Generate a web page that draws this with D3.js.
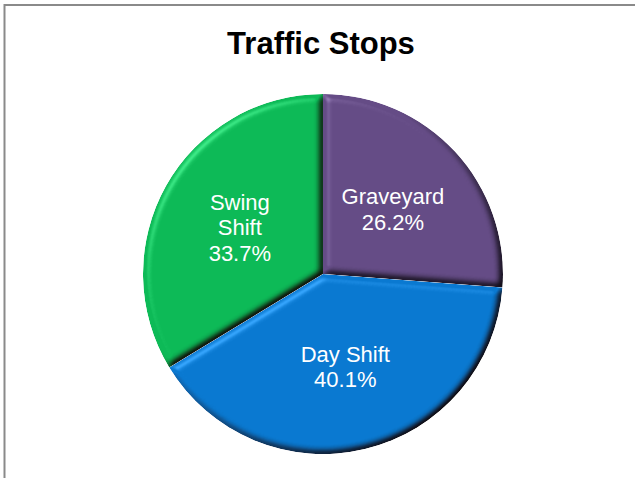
<!DOCTYPE html>
<html>
<head>
<meta charset="utf-8">
<script src="https://cdn.jsdelivr.net/npm/d3@7"></script>
<style>
  html, body { margin: 0; padding: 0; background: #fff; }
  svg { display: block; }
</style>
</head>
<body>
<svg id="chart" width="635" height="478"></svg>
<script>
const title = "Traffic Stops";
const categories = ["Graveyard", "Day Shift", "Swing Shift"];
const labelLines = [["Graveyard"], ["Day Shift"], ["Swing", "Shift"]];
const values = [26.2, 40.1, 33.7];
const colors = ["#654C86", "#0A79D1", "#0DBA57"];

const W = 635, H = 478;
const svg = d3.select("#chart");

// frame (open on the right and bottom, as in the reference)
svg.append("line").attr("x1", 4).attr("x2", W).attr("y1", 5).attr("y2", 5)
  .attr("stroke", "#8a8a8a").attr("stroke-width", 2);
svg.append("line").attr("x1", 4.5).attr("x2", 4.5).attr("y1", 4).attr("y2", H)
  .attr("stroke", "#8a8a8a").attr("stroke-width", 2);

svg.append("text")
  .attr("x", 321).attr("y", 54)
  .attr("text-anchor", "middle")
  .attr("font-family", "Liberation Sans, Arial, sans-serif")
  .attr("font-weight", "bold")
  .attr("font-size", 31)
  .attr("fill", "#000")
  .text(title);

const defs = svg.append("defs");
const f = defs.append("filter").attr("id", "bevel")
  .attr("color-interpolation-filters", "sRGB")
  .attr("x", "-10%").attr("y", "-10%").attr("width", "120%").attr("height", "120%");
f.append("feGaussianBlur").attr("in", "SourceAlpha").attr("stdDeviation", 3.5).attr("result", "blur");
const dl = f.append("feDiffuseLighting").attr("in", "blur").attr("surfaceScale", 4)
  .attr("diffuseConstant", 1.4142).attr("lighting-color", "#fff").attr("result", "diff");
dl.append("feDistantLight").attr("azimuth", 225).attr("elevation", 45);
const sl = f.append("feSpecularLighting").attr("in", "blur").attr("surfaceScale", 4)
  .attr("specularConstant", 0.6).attr("specularExponent", 18).attr("lighting-color", "#fff").attr("result", "spec");
sl.append("feDistantLight").attr("azimuth", 225).attr("elevation", 45);
f.append("feComposite").attr("in", "SourceGraphic").attr("in2", "diff")
  .attr("operator", "arithmetic").attr("k1", 1).attr("k2", 0).attr("k3", 0).attr("k4", 0).attr("result", "shaded");
f.append("feComposite").attr("in", "spec").attr("in2", "SourceAlpha").attr("operator", "in").attr("result", "specIn");
f.append("feComposite").attr("in", "shaded").attr("in2", "specIn")
  .attr("operator", "arithmetic").attr("k1", 0).attr("k2", 1).attr("k3", 0.4).attr("k4", -0.058).attr("result", "lit");
f.append("feComposite").attr("in", "lit").attr("in2", "SourceAlpha").attr("operator", "in");

const cx = 323, cy = 274, r = 180;
const g = svg.append("g").attr("transform", `translate(${cx},${cy})`);

const pie = d3.pie().sort(null).value(d => d.v);
const data = pie(values.map((v, i) => ({ v, i })));
const arc = d3.arc().innerRadius(0).outerRadius(r);
const labelArc = d3.arc().innerRadius(r * 0.53).outerRadius(r * 0.53);

g.selectAll("path.slice").data(data).enter().append("path")
  .attr("class", "slice")
  .attr("d", arc)
  .attr("fill", d => colors[d.data.i])
  .attr("filter", "url(#bevel)");

const fs = 22, lh = 25.5;
const lab = g.selectAll("text.lab").data(data).enter().append("text")
  .attr("class", "lab")
  .attr("text-anchor", "middle")
  .attr("font-family", "Liberation Sans, Arial, sans-serif")
  .attr("font-size", fs)
  .attr("fill", "#fff")
  .attr("transform", d => {
    const [x, y] = labelArc.centroid(d);
    return `translate(${x},${y})`;
  });
lab.each(function(d) {
  const lines = labelLines[d.data.i].concat([d.data.v.toFixed(1) + "%"]);
  const n = lines.length;
  const t = d3.select(this);
  lines.forEach((s, k) => {
    t.append("tspan").attr("x", 0)
      .attr("y", (k - (n - 1) / 2) * lh + fs * 0.36)
      .text(s);
  });
});
</script>
</body>
</html>
